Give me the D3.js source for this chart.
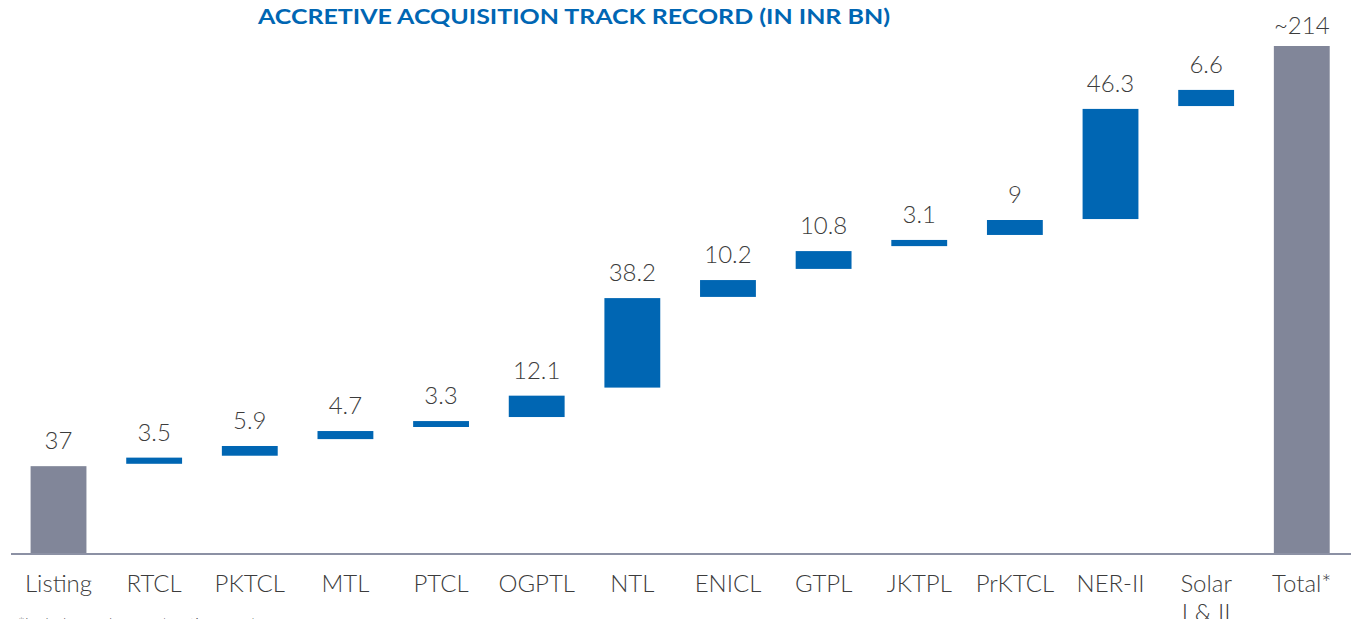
<!DOCTYPE html>
<html>
<head>
<meta charset="utf-8">
<script src="https://cdn.jsdelivr.net/npm/d3@7"></script>
<style>
  html, body { margin: 0; padding: 0; background: #ffffff; overflow: hidden; }
  svg { display: block; }
</style>
</head>
<body>
<svg id="chart" width="1351" height="619"></svg>
<script>
// ---- data ----
const categories = ["Listing", "RTCL", "PKTCL", "MTL", "PTCL", "OGPTL", "NTL", "ENICL", "GTPL", "JKTPL", "PrKTCL", "NER-II", "Solar\nI & II", "Total*"];
const valueLabels = ["37", "3.5", "5.9", "4.7", "3.3", "12.1", "38.2", "10.2", "10.8", "3.1", "9", "46.3", "6.6", "~214"];
const barStart = [0, 38.0, 41.4, 48.4, 53.5, 57.7, 70.1, 108.3, 120.1, 129.7, 134.4, 141.1, 188.7, 0];
const barEnd   = [37, 40.6, 45.5, 51.8, 56.0, 66.7, 107.8, 115.4, 127.6, 132.3, 140.7, 187.5, 195.5, 214];
const barKind  = ["total", "step", "step", "step", "step", "step", "step", "step", "step", "step", "step", "step", "step", "total"];
const title = "ACCRETIVE ACQUISITION TRACK RECORD (IN INR BN)";
const footnote = "*Includes under construction assets";

// ---- drawing ----
const svg = d3.select("#chart");
const colors = { total: "#818699", step: "#0066b3" };
const textColor = "#3c3c3c";
const fontFam = "Lato, 'Open Sans', sans-serif";

const x = d3.scaleBand()
  .domain(categories)
  .range([10.7, 1349.6])
  .paddingInner(0.416)
  .paddingOuter(0.208);

const y = d3.scaleLinear().domain([0, 214]).range([554, 46]);

// title
svg.append("text")
  .attr("x", 574)
  .attr("y", 24)
  .attr("text-anchor", "middle")
  .attr("font-family", fontFam)
  .attr("font-weight", 700)
  .attr("font-size", 21)
  .attr("fill", "#0066b3")
  .attr("textLength", 632)
  .attr("lengthAdjust", "spacingAndGlyphs")
  .text(title);

const data = categories.map((c, i) => ({ c, label: valueLabels[i], s: barStart[i], e: barEnd[i], k: barKind[i] }));

// bars
svg.append("g").selectAll("rect")
  .data(data)
  .join("rect")
  .attr("x", d => x(d.c))
  .attr("width", x.bandwidth())
  .attr("y", d => y(d.e))
  .attr("height", d => y(d.s) - y(d.e))
  .attr("fill", d => colors[d.k]);

// value labels
svg.append("g").selectAll("text")
  .data(data)
  .join("text")
  .attr("x", d => x(d.c) + x.bandwidth() / 2)
  .attr("y", d => y(d.e) - (d.k === "total" && d.e > 200 ? 12 : 17))
  .attr("text-anchor", "middle")
  .attr("font-family", fontFam)
  .attr("font-weight", 300)
  .attr("font-size", 24)
  .attr("fill", textColor)
  .text(d => d.label);

// axis
const axis = d3.axisBottom(x).tickSize(0).tickPadding(0);
const gAxis = svg.append("g").attr("transform", "translate(0,554)").call(axis);
gAxis.select(".domain").remove();
gAxis.append("line")
  .attr("x1", 11).attr("x2", 1351)
  .attr("y1", 0).attr("y2", 0)
  .attr("stroke", "#8c91a4")
  .attr("stroke-width", 2);
gAxis.selectAll(".tick text").each(function(d) {
  const t = d3.select(this);
  const lines = d.split("\n");
  t.text(null)
    .attr("y", 38)
    .attr("dy", null)
    .attr("font-family", fontFam)
    .attr("font-weight", 300)
    .attr("font-size", 24)
    .attr("fill", textColor)
    .attr("text-anchor", "middle");
  lines.forEach((ln, j) => {
    t.append("tspan")
      .attr("x", 0)
      .attr("dy", j === 0 ? 0 : 29)
      .text(ln);
  });
});

// footnote (mostly cut off at bottom edge)
svg.append("text")
  .attr("x", 18)
  .attr("y", 629)
  .attr("font-family", fontFam)
  .attr("font-weight", 300)
  .attr("font-size", 16)
  .attr("fill", "#5a5a5a")
  .text(footnote);
</script>
</body>
</html>
